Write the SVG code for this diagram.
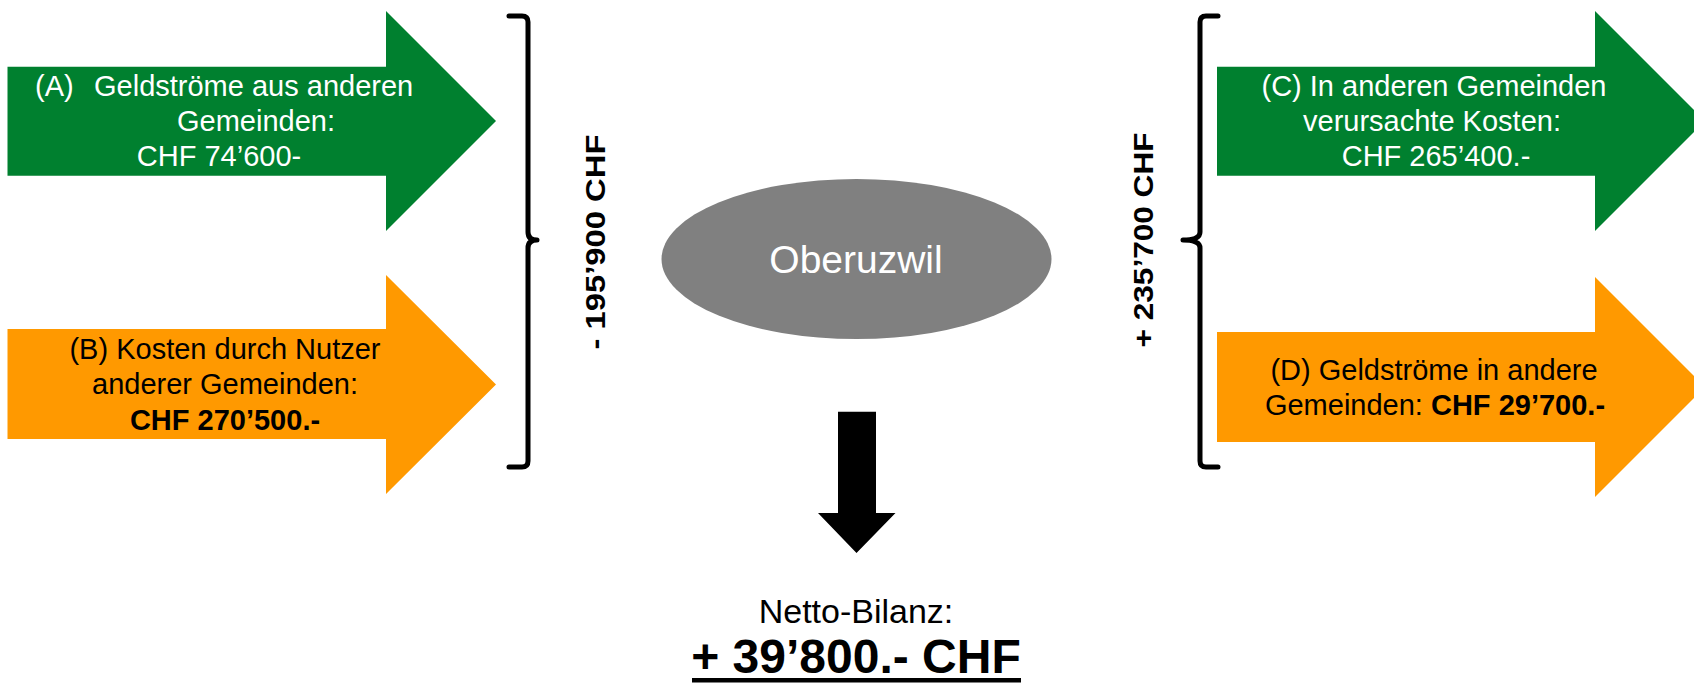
<svg xmlns="http://www.w3.org/2000/svg" width="1694" height="683" viewBox="0 0 1694 683">
<style>
.green{fill:#00802F}
.orange{fill:#FF9900}
.t{font-family:"Liberation Sans",Arial,sans-serif;font-size:29px}
.w{fill:#FFFFFF}
.k{fill:#000000}
.b{font-weight:bold}
.brace{fill:none;stroke:#000;stroke-width:5;stroke-linecap:round;stroke-linejoin:round}
.rot{font-family:"Liberation Sans",Arial,sans-serif;font-size:27px;font-weight:bold;fill:#000}
</style>
<rect width="1694" height="683" fill="#FFFFFF"/>
<g id="node-A">
<polygon class="green" points="7.5,66.7 386,66.7 386,11 496,121 386,231 386,175.7 7.5,175.7"/>
<text class="t w" x="35" y="96">(A)<tspan x="94">Geldströme aus anderen</tspan></text>
<text class="t w" x="256" y="131" text-anchor="middle">Gemeinden:</text>
<text class="t w" x="219" y="166" text-anchor="middle">CHF 74’600-</text>
</g>
<g id="node-B">
<polygon class="orange" points="7.5,329 386,329 386,275 496,384.5 386,494 386,439 7.5,439"/>
<text class="t k" x="225" y="359" text-anchor="middle">(B) Kosten durch Nutzer</text>
<text class="t k" x="225" y="394" text-anchor="middle">anderer Gemeinden:</text>
<text class="t k b" x="225" y="430" text-anchor="middle">CHF 270’500.-</text>
</g>
<g id="node-C">
<polygon class="green" points="1217,66.7 1595,66.7 1595,11 1705,121 1595,231 1595,175.7 1217,175.7"/>
<text class="t w" x="1434" y="96" text-anchor="middle">(C) In anderen Gemeinden</text>
<text class="t w" x="1432" y="131" text-anchor="middle">verursachte Kosten:</text>
<text class="t w" x="1436" y="166" text-anchor="middle">CHF 265’400.-</text>
</g>
<g id="node-D">
<polygon class="orange" points="1217,332 1595,332 1595,277 1705,387 1595,497 1595,442 1217,442"/>
<text class="t k" x="1434" y="380" text-anchor="middle">(D) Geldströme in andere</text>
<text class="t k" x="1435" y="415" text-anchor="middle">Gemeinden: <tspan class="b">CHF 29’700.-</tspan></text>
</g>
<g id="bracket-left">
<path class="brace" d="M509,16 L522,16 Q528,16 528,22 L528,232 Q528,240 537,240 Q528,240 528,248 L528,461 Q528,467 522,467 L509,467"/>
<text class="rot" transform="translate(605,242) rotate(-90)" x="0" y="0" text-anchor="middle" textLength="215" lengthAdjust="spacingAndGlyphs">- 195’900 CHF</text>
</g>
<g id="bracket-right">
<path class="brace" d="M1218,16 L1206,16 Q1200,16 1200,22 L1200,232 Q1200,240 1183,240 Q1200,240 1200,248 L1200,461 Q1200,467 1206,467 L1218,467"/>
<text class="rot" transform="translate(1153,240) rotate(-90)" x="0" y="0" text-anchor="middle" textLength="215" lengthAdjust="spacingAndGlyphs">+ 235’700 CHF</text>
</g>
<g id="node-center">
<ellipse cx="856.5" cy="259" rx="195" ry="80" fill="#808080"/>
<text x="856" y="273" text-anchor="middle" font-family="Liberation Sans, Arial, sans-serif" font-size="39" fill="#FFFFFF">Oberuzwil</text>
</g>
<g id="connectors">
<polygon fill="#000" points="838,411.7 876,411.7 876,513 895.5,513 856.5,553 818,513 838,513"/>
</g>
<g id="node-result">
<text x="856" y="623" text-anchor="middle" font-family="Liberation Sans, Arial, sans-serif" font-size="34" fill="#000">Netto-Bilanz:</text>
<text x="856" y="673" text-anchor="middle" font-family="Liberation Sans, Arial, sans-serif" font-size="48" font-weight="bold" fill="#000">+ 39’800.- CHF</text>
<rect x="692" y="678" width="329" height="4.5" fill="#000"/>
</g>
</svg>
